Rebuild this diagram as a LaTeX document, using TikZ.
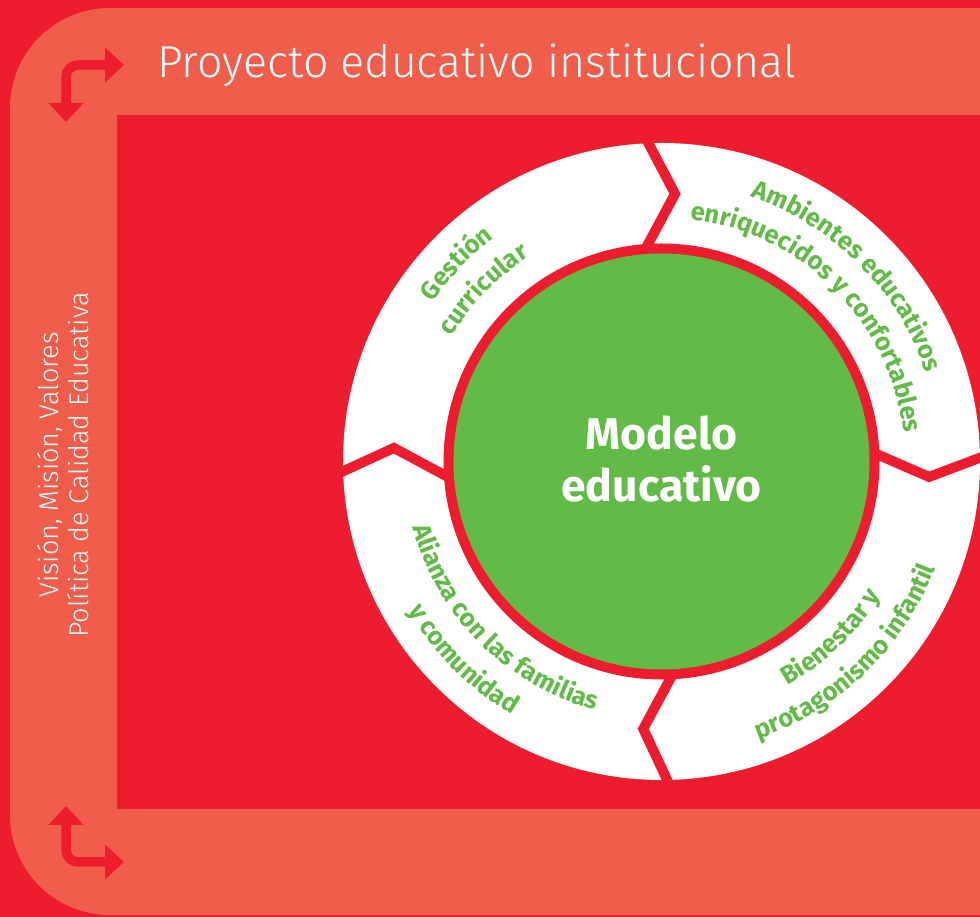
\documentclass[tikz,border=0pt]{standalone}
\usepackage{fontspec}
\setmainfont{Fira Sans}
\newfontfamily\lightfam{Fira Sans Light}
\usetikzlibrary{decorations.text,arrows.meta}
\definecolor{bgred}{RGB}{237,28,46}
\definecolor{salmon}{RGB}{241,93,75}
\definecolor{lgreen}{RGB}{98,186,71}
\newcommand\lblfont{\fontsize{25.5}{25.5}\selectfont\bfseries}
\tikzset{
  arr/.style={draw=bgred, line width=9.5pt, rounded corners=12pt,
    {Triangle[width=34pt,length=19pt]}-{Triangle[width=34pt,length=19pt]}},
  chev/.style={draw=bgred, line width=10pt, line join=miter},
  lbl/.style={decorate, decoration={text along path, text align=center, text color=lgreen, text={#1}}},
  modelo/.style={text=white, font=\bfseries\fontsize{44.5}{44.5}\selectfont, inner sep=0pt, anchor=base}
}
\begin{document}
\begin{tikzpicture}[x=1pt,y=1pt]
\useasboundingbox (0,0) rectangle (980,917);
\fill[bgred] (0,0) rectangle (980,917);
% salmon frame
\fill[salmon] (980,909) -- (110,909) arc[start angle=90,end angle=180,radius=100]
  -- (10,102) arc[start angle=180,end angle=270,radius=100] -- (980,2) -- cycle;
\fill[bgred] (117,108) rectangle (980,802);
% bent arrows
\draw[arr] (66,795) -- (66,852) -- (124,852);
\draw[arr] (66,111) -- (66,55) -- (124,55);
% title and side text
\node[anchor=base west, inner sep=0pt, text=white, font=\lightfam\fontsize{44.7}{44.7}\selectfont] (title) at (157,839) {Proyecto educativo institucional};
\node[rotate=90, align=center, text=white, font=\lightfam\fontsize{27}{30}\selectfont] (side) at (63,452) {Visión, Misión, Valores\\Política de Calidad Educativa};
% circle
\begin{scope}[shift={(661.5,455.5)}]
\coordinate (C) at (0,0);
\fill[white] (C) circle[radius=318.5];
\fill[bgred] (C) circle[radius=218];
\fill[lgreen] (C) circle[radius=208];
\draw[chev] (93.3:330) -- (87.1:268) -- (94.0:215);
\draw[chev] (182.6:330) -- (177.1:268) -- (184.0:215);
\draw[chev] (271.9:330) -- (266.1:268) -- (272.7:215);
\draw[chev] (1.4:330) -- (-3.3:268) -- (2.0:215);
% labels
\path[lbl={|\lblfont|Gestión}] (206:279) arc[start angle=206,end angle=66,radius=279];
\path[lbl={|\lblfont|curricular}] (206:244) arc[start angle=206,end angle=66,radius=244];
\path[lbl={|\lblfont|Ambientes educativos}] (115:279) arc[start angle=115,end angle=-25,radius=279];
\path[lbl={|\lblfont|enriquecidos y confortables}] (115:244) arc[start angle=115,end angle=-25,radius=244];
\path[lbl={|\lblfont|Alianza con las familias}] (155:257) arc[start angle=155,end angle=295,radius=257];
\path[lbl={|\lblfont|y comunidad}] (155:294) arc[start angle=155,end angle=295,radius=294];
\path[lbl={|\lblfont|Bienestar y}] (-116:257) arc[start angle=-116,end angle=24,radius=257];
\path[lbl={|\lblfont|protagonismo infantil}] (-116:294) arc[start angle=-116,end angle=24,radius=294];
\end{scope}
\node[modelo] (m1) at (661.5,467) {Modelo};
\node[modelo] (m2) at (661.5,415) {educativo};
\end{tikzpicture}
\end{document}
